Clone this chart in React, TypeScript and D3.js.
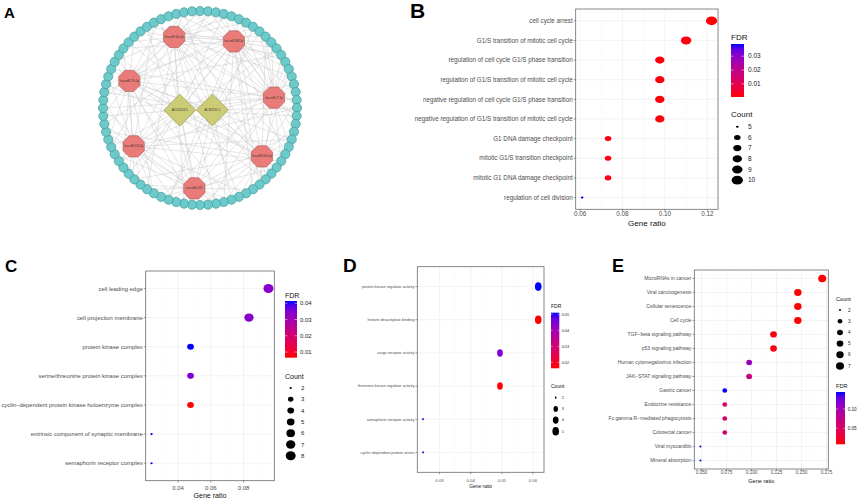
import React from "react";
import * as d3 from "d3";

const FONT = "'Liberation Sans', Arial, Helvetica, sans-serif";

// ---------------- Panel A: network ----------------
const periCount = 76;
const hubNames = [
  "hsa-miR-34a-5p",
  "hsa-miR-338-3p",
  "hsa-miR-27b-3p",
  "hsa-miR-17-5p",
  "hsa-miR-125-5p",
  "hsa-miR-106a-5p",
  "hsa-miR-1207",
];
// polar layout: angle (deg, screen), radius as fraction of ring radius
const hubAngles = [-110, -63, -159, -8, 150, 38, 94];
const hubRadii = [0.78, 0.77, 0.78, 0.77, 0.79, 0.81, 0.83];
const hubTargets = [
  [0, 2, 4, 6, 9, 12, 15, 20, 24, 28, 33, 40, 45, 52, 58, 63, 66, 68, 70, 74, 10, 36],
  [1, 3, 5, 8, 11, 14, 17, 21, 25, 30, 35, 42, 48, 55, 60, 65, 69, 73, 75, 13, 19, 31],
  [0, 3, 7, 12, 18, 23, 29, 34, 39, 44, 49, 53, 56, 59, 62, 64, 67, 71, 74, 27, 47],
  [2, 5, 8, 10, 13, 15, 16, 18, 20, 22, 24, 26, 30, 37, 43, 50, 57, 62, 68, 72, 75, 14, 12, 9],
  [1, 6, 11, 19, 26, 32, 36, 41, 44, 46, 48, 50, 53, 55, 58, 61, 65, 70, 38, 23],
  [4, 9, 14, 18, 21, 23, 25, 28, 30, 32, 35, 38, 41, 47, 54, 60, 67, 73, 29, 33],
  [7, 13, 22, 27, 31, 34, 36, 37, 40, 42, 43, 46, 51, 54, 57, 63, 69, 16, 45, 35],
];
const lncNames = ["AL513123.1", "AL391152.1"];
const lncAngles = [174, 9];
const lncRadii = [0.21, 0.13];
const lncTargets = [
  [3, 16, 25, 38, 47, 56, 64, 71, 20, 52],
  [8, 19, 29, 42, 59, 66, 74, 11, 34],
];

// ---------------- Panel B ----------------
const bTerms = [
  "cell cycle arrest",
  "G1/S transition of mitotic cell cycle",
  "regulation of cell cycle G1/S phase transition",
  "regulation of G1/S transition of mitotic cell cycle",
  "negative regulation of cell cycle G1/S phase transition",
  "negative regulation of G1/S transition of mitotic cell cycle",
  "G1 DNA damage checkpoint",
  "mitotic G1/S transition checkpoint",
  "mitotic G1 DNA damage checkpoint",
  "regulation of cell division",
];
const bRatio = [0.122, 0.11, 0.0976, 0.0976, 0.0976, 0.0976, 0.0732, 0.0732, 0.0732, 0.061];
const bCount = [10, 9, 8, 8, 8, 8, 6, 6, 6, 5];
const bFdr = [0.0005, 0.0012, 0.0012, 0.0012, 0.001, 0.001, 0.0015, 0.0015, 0.0015, 0.0388];
const bTicks = [0.06, 0.08, 0.1, 0.12];
const bFdrBreaks = [0.01, 0.02, 0.03];
const bCountBreaks = [5, 6, 7, 8, 9, 10];

// ---------------- Panel C ----------------
const cTerms = [
  "cell leading edge",
  "cell projection membrane",
  "protein kinase complex",
  "serine/threonine protein kinase complex",
  "cyclin\u2212dependent protein kinase holoenzyme complex",
  "extrinsic component of synaptic membrane",
  "semaphorin receptor complex",
];
const cRatio = [0.0952, 0.0833, 0.0476, 0.0476, 0.0476, 0.0238, 0.0238];
const cCount = [8, 7, 4, 4, 4, 2, 2];
const cFdr = [0.034, 0.034, 0.0414, 0.035, 0.0065, 0.0414, 0.0414];
const cTicks = [0.04, 0.06, 0.08];
const cFdrBreaks = [0.01, 0.02, 0.03, 0.04];
const cCountBreaks = [2, 3, 4, 5, 6, 7, 8];

// ---------------- Panel D ----------------
const dTerms = [
  "protein kinase regulator activity",
  "histone deacetylase binding",
  "cargo receptor activity",
  "threonine kinase regulator activity",
  "semaphorin receptor activity",
  "cyclin\u2212dependent protein serine",
];
const dRatio = [0.0617, 0.0617, 0.0494, 0.0494, 0.0247, 0.0247];
const dCount = [5, 5, 4, 4, 2, 2];
const dFdr = [0.051, 0.0163, 0.044, 0.0165, 0.051, 0.051];
const dTicks = [0.03, 0.04, 0.05, 0.06];
const dFdrBreaks = [0.02, 0.03, 0.04, 0.05];
const dCountBreaks = [2, 3, 4, 5];

// ---------------- Panel E ----------------
const eTerms = [
  "MicroRNAs in cancer",
  "Viral carcinogenesis",
  "Cellular senescence",
  "Cell cycle",
  "TGF\u2212beta signaling pathway",
  "p53 signaling pathway",
  "Human cytomegalovirus infection",
  "JAK\u2212STAT signaling pathway",
  "Gastric cancer",
  "Endocrine resistance",
  "Fc gamma R\u2212mediated phagocytosis",
  "Colorectal cancer",
  "Viral myocarditis",
  "Mineral absorption",
];
const eRatio = [0.1707, 0.1463, 0.1463, 0.1463, 0.122, 0.122, 0.0976, 0.0976, 0.0732, 0.0732, 0.0732, 0.0732, 0.0488, 0.0488];
const eCount = [7, 6, 6, 6, 5, 5, 4, 4, 3, 3, 3, 3, 2, 2];
const eFdr = [0.0086, 0.009, 0.009, 0.009, 0.012, 0.012, 0.105, 0.07, 0.144, 0.062, 0.062, 0.058, 0.144, 0.144];
const eTicks = [0.05, 0.075, 0.1, 0.125, 0.15, 0.175];
const eFdrBreaks = [0.05, 0.1];
const eCountBreaks = [2, 3, 4, 5, 6, 7];

const colorInterp = d3.interpolateLab("red", "blue");

type Spec = {
  id: string;
  terms: string[];
  ratio: number[];
  count: number[];
  fdr: number[];
  ticks: number[];
  tickFmt: string;
  box: { l: number; t: number; r: number; b: number };
  labelSize: number;
  tickSize: number;
  titleSize: number;
  tickBase: number;
  titleBase: number;
  rmin: number;
  rmax: number;
  ax: number;
  ay: number;
  countBreaks: number[];
  fdrBreaks: number[];
  fdrFmt: string;
  leg: {
    fdrX: number; fdrTitleBase: number; barTop: number; barBottom: number; barW: number; fdrLabelX: number;
    cntTitleBase: number; dotX: number; dotY0: number; dotStep: number; cntLabelX: number;
    titleSize: number; labelSize: number; cntX: number;
  };
};

function DotPanel({ s }: { s: Spec }) {
  const { box } = s;
  const xmin = d3.min(s.ratio)!;
  const xmax = d3.max(s.ratio)!;
  const pad = (xmax - xmin) * 0.05;
  const x = d3.scaleLinear().domain([xmin - pad, xmax + pad]).range([box.l, box.r]);
  const n = s.terms.length;
  const y = d3.scaleLinear().domain([0.4, n + 0.6]).range([box.t, box.b]);
  const fmin = d3.min(s.fdr)!;
  const fmax = d3.max(s.fdr)!;
  const col = d3.scaleLinear().domain([fmin, fmax]).range([0, 1]);
  const cmin = d3.min(s.count)!;
  const cmax = d3.max(s.count)!;
  const rad = (c: number) => s.rmin + (s.rmax - s.rmin) * Math.sqrt((c - cmin) / (cmax - cmin));
  const step = s.ticks[1] - s.ticks[0];
  const minors: number[] = [];
  for (let i = -1; i < s.ticks.length; i++) {
    const v = s.ticks[0] + step * (i + 0.5);
    if (v > xmin - pad && v < xmax + pad) minors.push(v);
  }
  const fmt = d3.format(s.tickFmt);
  const ffmt = d3.format(s.fdrFmt);
  const L = s.leg;
  const barY = d3.scaleLinear().domain([fmin, fmax]).range([L.barBottom, L.barTop]);
  const gid = "grad" + s.id;
  const stops = d3.range(0, 1.0001, 0.1);
  return (
    <g fontFamily={FONT}>
      <defs>
        <linearGradient id={gid} x1="0" y1="1" x2="0" y2="0">
          {stops.map((t) => (
            <stop key={t} offset={t} stopColor={colorInterp(t)} />
          ))}
        </linearGradient>
      </defs>
      <rect x={box.l} y={box.t} width={box.r - box.l} height={box.b - box.t} fill="white" />
      {minors.map((v) => (
        <line key={"mi" + v} x1={x(v)} x2={x(v)} y1={box.t} y2={box.b} stroke="#f2f2f2" strokeWidth={0.35} />
      ))}
      {s.ticks.map((v) => (
        <line key={"ma" + v} x1={x(v)} x2={x(v)} y1={box.t} y2={box.b} stroke="#ebebeb" strokeWidth={0.6} />
      ))}
      {s.terms.map((t, i) => (
        <line key={"hg" + i} x1={box.l} x2={box.r} y1={y(i + 1)} y2={y(i + 1)} stroke="#ebebeb" strokeWidth={0.6} />
      ))}
      {s.terms.map((t, i) => (
        <ellipse
          key={"pt" + i}
          cx={x(s.ratio[i])}
          cy={y(i + 1)}
          rx={rad(s.count[i]) * s.ax}
          ry={rad(s.count[i]) * s.ay}
          fill={colorInterp(col(s.fdr[i]))}
        />
      ))}
      <rect x={box.l} y={box.t} width={box.r - box.l} height={box.b - box.t} fill="none" stroke="#6a6a6a" strokeWidth={0.8} />
      {s.terms.map((t, i) => (
        <g key={"yl" + i}>
          <line x1={box.l - 2} x2={box.l} y1={y(i + 1)} y2={y(i + 1)} stroke="#444" strokeWidth={0.5} />
          <text x={box.l - 3} y={y(i + 1)} dy="0.35em" textAnchor="end" fontSize={s.labelSize} fill="#4d4d4d">
            {t}
          </text>
        </g>
      ))}
      {s.ticks.map((v) => (
        <g key={"xl" + v}>
          <line x1={x(v)} x2={x(v)} y1={box.b} y2={box.b + 2} stroke="#444" strokeWidth={0.5} />
          <text x={x(v)} y={s.tickBase} textAnchor="middle" fontSize={s.tickSize} fill="#4d4d4d">
            {fmt(v)}
          </text>
        </g>
      ))}
      <text x={(box.l + box.r) / 2} y={s.titleBase} textAnchor="middle" fontSize={s.titleSize} fill="#111">
        Gene ratio
      </text>
      {/* FDR legend */}
      <text x={L.fdrX} y={L.fdrTitleBase} fontSize={L.titleSize} fill="#111">FDR</text>
      <rect x={L.fdrX} y={L.barTop} width={L.barW} height={L.barBottom - L.barTop} fill={`url(#${gid})`} />
      {s.fdrBreaks.map((v) => (
        <g key={"fb" + v}>
          <line x1={L.fdrX} x2={L.fdrX + L.barW / 5} y1={barY(v)} y2={barY(v)} stroke="white" strokeWidth={0.5} />
          <line x1={L.fdrX + L.barW - L.barW / 5} x2={L.fdrX + L.barW} y1={barY(v)} y2={barY(v)} stroke="white" strokeWidth={0.5} />
          <text x={L.fdrLabelX} y={barY(v)} dy="0.35em" fontSize={L.labelSize} fill="#222">
            {ffmt(v)}
          </text>
        </g>
      ))}
      {/* Count legend */}
      <text x={L.cntX} y={L.cntTitleBase} fontSize={L.titleSize} fill="#111">Count</text>
      {s.countBreaks.map((c, i) => (
        <g key={"cb" + c}>
          <ellipse cx={L.dotX} cy={L.dotY0 + i * L.dotStep} rx={rad(c) * s.ax} ry={rad(c) * s.ay} fill="black" />
          <text x={L.cntLabelX} y={L.dotY0 + i * L.dotStep} dy="0.35em" fontSize={L.labelSize} fill="#222">
            {c}
          </text>
        </g>
      ))}
    </g>
  );
}

const specs: Spec[] = [
  {
    id: "B", terms: bTerms, ratio: bRatio, count: bCount, fdr: bFdr, ticks: bTicks, tickFmt: ".2f",
    box: { l: 575.7, t: 9, r: 718, b: 209.3 }, labelSize: 6.3, tickSize: 6.3, titleSize: 8.1,
    tickBase: 215.5, titleBase: 225.6, rmin: 1.2, rmax: 5, ax: 1.13, ay: 0.87,
    countBreaks: bCountBreaks, fdrBreaks: bFdrBreaks, fdrFmt: ".2f",
    leg: { fdrX: 731, fdrTitleBase: 40, barTop: 44, barBottom: 97, barW: 13, fdrLabelX: 748,
      cntX: 731, cntTitleBase: 117, dotX: 737.3, dotY0: 126.7, dotStep: 10.7, cntLabelX: 748, titleSize: 8, labelSize: 6.5 },
  },
  {
    id: "C", terms: cTerms, ratio: cRatio, count: cCount, fdr: cFdr, ticks: cTicks, tickFmt: ".2f",
    box: { l: 145.7, t: 271, r: 274.3, b: 480.7 }, labelSize: 5.9, tickSize: 6, titleSize: 7.1,
    tickBase: 490, titleBase: 497.5, rmin: 1.1, rmax: 4.75, ax: 1.05, ay: 0.95,
    countBreaks: cCountBreaks, fdrBreaks: cFdrBreaks, fdrFmt: ".2f",
    leg: { fdrX: 285, fdrTitleBase: 297.5, barTop: 301, barBottom: 357.7, barW: 12, fdrLabelX: 300,
      cntX: 285, cntTitleBase: 378.5, dotX: 290.7, dotY0: 388, dotStep: 11.3, cntLabelX: 301, titleSize: 7, labelSize: 6 },
  },
  {
    id: "D", terms: dTerms, ratio: dRatio, count: dCount, fdr: dFdr, ticks: dTicks, tickFmt: ".2f",
    box: { l: 417.3, t: 266.7, r: 544, b: 472.3 }, labelSize: 3.8, tickSize: 4.3, titleSize: 4.9,
    tickBase: 481.5, titleBase: 487.7, rmin: 1, rmax: 3.8, ax: 0.87, ay: 1.13,
    countBreaks: dCountBreaks, fdrBreaks: dFdrBreaks, fdrFmt: ".2f",
    leg: { fdrX: 551, fdrTitleBase: 307.5, barTop: 312.7, barBottom: 368.3, barW: 8.3, fdrLabelX: 561.7,
      cntX: 551, cntTitleBase: 388, dotX: 555.7, dotY0: 397.7, dotStep: 11.2, cntLabelX: 561.7, titleSize: 5, labelSize: 3.8 },
  },
  {
    id: "E", terms: eTerms, ratio: eRatio, count: eCount, fdr: eFdr, ticks: eTicks, tickFmt: ".3f",
    box: { l: 694.3, t: 270, r: 828.3, b: 469 }, labelSize: 5, tickSize: 4.7, titleSize: 5.6,
    tickBase: 473.8, titleBase: 483, rmin: 1, rmax: 3.9, ax: 1.03, ay: 0.97,
    countBreaks: eCountBreaks, fdrBreaks: eFdrBreaks, fdrFmt: ".2f",
    leg: { fdrX: 836, fdrTitleBase: 387.7, barTop: 392, barBottom: 444.3, barW: 9, fdrLabelX: 847.7,
      cntX: 836, cntTitleBase: 301, dotX: 840, dotY0: 310, dotStep: 11.2, cntLabelX: 848, titleSize: 5.6, labelSize: 4.6 },
  },
];

function Network() {
  const cx = 200;
  const cy = 108;
  const R = 97;
  const ang = d3.scaleLinear().domain([0, periCount]).range([-Math.PI / 2, (3 * Math.PI) / 2]);
  const peri = d3.range(periCount).map((i) => [cx + R * Math.cos(ang(i)), cy + R * Math.sin(ang(i))]);
  const toRad = (a: number) => (a * Math.PI) / 180;
  const hubs = hubAngles.map((a, i) => [cx + R * hubRadii[i] * Math.cos(toRad(a)), cy + R * hubRadii[i] * Math.sin(toRad(a))]);
  const lncs = lncAngles.map((a, i) => [cx + R * lncRadii[i] * Math.cos(toRad(a)), cy + R * lncRadii[i] * Math.sin(toRad(a))]);
  const edges: [number[], number[]][] = [];
  hubTargets.forEach((ts, h) => ts.forEach((t) => edges.push([hubs[h], peri[t]])));
  lncTargets.forEach((ts, h) => ts.forEach((t) => edges.push([lncs[h], peri[t]])));
  lncs.forEach((l) => hubs.forEach((h) => edges.push([l, h])));
  const oct = (r: number) =>
    d3.range(8).map((k) => {
      const a = toRad(22.5 + k * 45);
      return `${r * Math.cos(a)},${r * Math.sin(a)}`;
    }).join(" ");
  return (
    <g fontFamily={FONT}>
      {edges.map((e, i) => (
        <line key={i} x1={e[0][0]} y1={e[0][1]} x2={e[1][0]} y2={e[1][1]} stroke="#c8c8c8" strokeWidth={0.45} />
      ))}
      {peri.map((p, i) => (
        <circle key={"p" + i} cx={p[0]} cy={p[1]} r={4.6} fill="#6ccaca" stroke="#3a8f8f" strokeWidth={0.6} />
      ))}
      {hubs.map((h, i) => (
        <g key={"h" + i} transform={`translate(${h[0]},${h[1]})`}>
          <polygon points={oct(11.5)} fill="#e97b78" stroke="#a85a58" strokeWidth={0.6} />
          <text textAnchor="middle" dy="0.35em" fontSize={2.6} fill="#333">{hubNames[i]}</text>
        </g>
      ))}
      {lncs.map((l, i) => (
        <g key={"l" + i} transform={`translate(${l[0]},${l[1]})`}>
          <polygon points="0,-16 16,0 0,16 -16,0" fill="#cccb76" stroke="#8e8d48" strokeWidth={0.6} />
          <text textAnchor="middle" dy="0.35em" fontSize={3} fill="#333">{lncNames[i]}</text>
        </g>
      ))}
    </g>
  );
}

export default function App() {
  return (
    <svg
      width={858}
      height={499}
      viewBox="0 0 858 499"
      style={{ position: "absolute", left: 0, top: 0, background: "white" }}
    >
      <rect width={858} height={499} fill="white" />
      <Network />
      {specs.map((s) => (
        <DotPanel key={s.id} s={s} />
      ))}
      <g fontFamily={FONT} fontWeight="bold" fill="black">
        <text x={4} y={17.5} fontSize={15}>A</text>
        <text x={410} y={18} fontSize={21}>B</text>
        <text x={5} y={272} fontSize={17}>C</text>
        <text x={343} y={272} fontSize={19}>D</text>
        <text x={612} y={272} fontSize={18}>E</text>
      </g>
    </svg>
  );
}
